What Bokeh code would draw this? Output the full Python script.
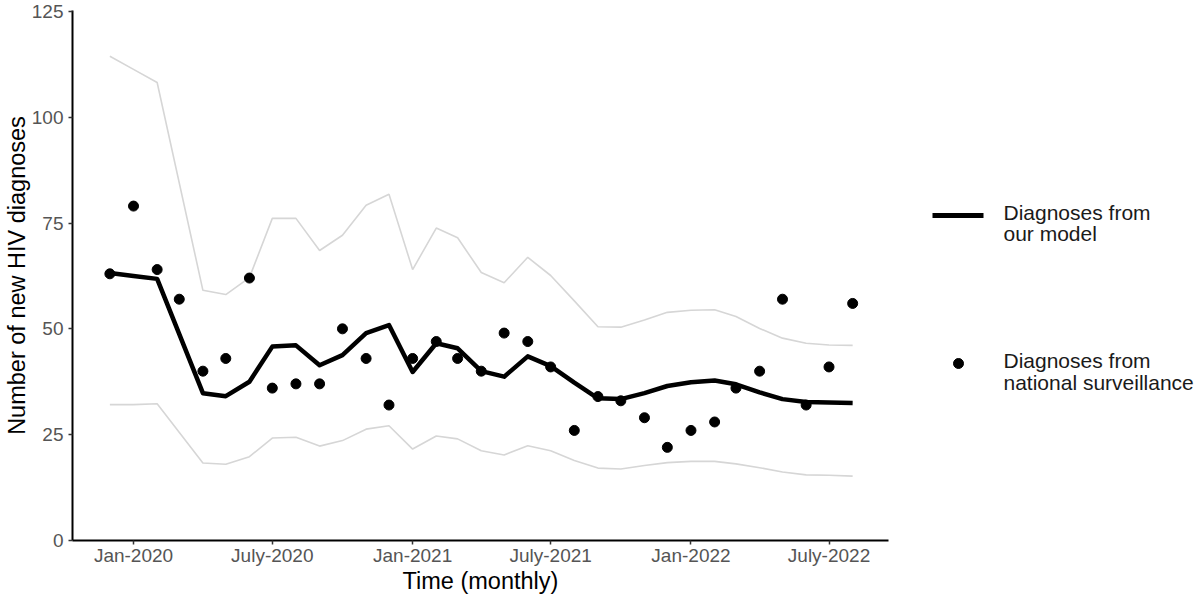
import pandas as pd
from bokeh.plotting import figure
from bokeh.layouts import row
from bokeh.models import FixedTicker, Range1d
from bokeh.core.properties import value
from bokeh.embed import file_html
from bokeh.resources import INLINE

# ---------------- data ----------------
surv_months = pd.date_range("2019-12-01", "2022-08-01", freq="MS")
surv_values = [63, 79, 64, 57, 40, 43, 62, 36, 37, 37, 50, 43, 32,
               43, 47, 43, 40, 49, 47, 41, 26, 34, 33, 29, 22,
               26, 28, 36, 40, 57, 32, 41, 56]

model_months = surv_months.drop(pd.Timestamp("2020-03-01"))
model_values = [63.2, 62.5, 61.8, 34.8, 34.1, 37.5, 45.8, 46.1, 41.4, 43.8, 49.0, 50.9,
                39.8, 46.6, 45.4, 40.0, 38.7, 43.5, 41.2, 37.3, 33.6, 33.4, 34.8, 36.5,
                37.4, 37.8, 36.9, 35.0, 33.4, 32.7, 32.6, 32.5]
model_upper = [114.4, 111.3, 108.2, 59.1, 58.1, 62.1, 76.1, 76.1, 68.5, 72.1, 79.2, 81.8,
               64.0, 73.8, 71.5, 63.3, 60.9, 66.9, 62.6, 56.6, 50.5, 50.4, 52.1, 53.9,
               54.4, 54.5, 52.9, 50.1, 47.8, 46.6, 46.2, 46.1]
model_lower = [32.1, 32.1, 32.3, 18.3, 18.0, 19.8, 24.2, 24.4, 22.3, 23.6, 26.3, 27.1,
               21.6, 24.7, 24.0, 21.2, 20.2, 22.4, 21.2, 18.9, 17.1, 16.9, 17.7, 18.4,
               18.7, 18.7, 18.1, 17.2, 16.2, 15.5, 15.4, 15.2]

x_tick_dates = ["2020-01-01", "2020-07-01", "2021-01-01", "2021-07-01", "2022-01-01", "2022-07-01"]
x_tick_labels = ["Jan-2020", "July-2020", "Jan-2021", "July-2021", "Jan-2022", "July-2022"]
y_ticks = [0, 25, 50, 75, 100, 125]

legend_lines_model = ["Diagnoses from", "our model"]
legend_lines_surv = ["Diagnoses from", "national surveillance"]

FONT = "Liberation Sans"
H = 596
FRAME_TOP, FRAME_BOTTOM = 10, 540

# ---------------- main plot ----------------
p = figure(width=890, height=H, x_axis_type="datetime",
           x_range=Range1d(pd.Timestamp("2019-10-13"), pd.Timestamp("2022-09-17")),
           y_range=Range1d(0, 125.2),
           toolbar_location=None, output_backend="svg",
           min_border_left=71, min_border_right=2,
           min_border_top=FRAME_TOP, min_border_bottom=H - FRAME_BOTTOM)

p.line(model_months, model_upper, line_color="#d6d6d6", line_width=1.6)
p.line(model_months, model_lower, line_color="#d6d6d6", line_width=1.6)
p.line(model_months, model_values, line_color="black", line_width=4.5, line_join="round")
p.scatter(surv_months, surv_values, size=10, color="black")

tick_ms = [int(t) for t in (pd.to_datetime(x_tick_dates).asi8 // 10**6)]
p.xaxis.ticker = FixedTicker(ticks=tick_ms)
p.xaxis.major_label_overrides = {ms: lab for ms, lab in zip(tick_ms, x_tick_labels)}
p.yaxis.ticker = FixedTicker(ticks=y_ticks)

p.xaxis.axis_label = "Time (monthly)"
p.yaxis.axis_label = "Number of new HIV diagnoses"

for ax in (p.xaxis, p.yaxis):
    ax.axis_line_color = "black"
    ax.axis_line_width = 2
    ax.major_tick_line_color = "#333333"
    ax.major_tick_line_width = 1.5
    ax.major_tick_out = 4
    ax.major_tick_in = 0
    ax.minor_tick_line_color = None
    ax.major_label_text_font = FONT
    ax.major_label_text_font_size = "19px"
    ax.major_label_text_color = "#555555"
    ax.axis_label_text_font = FONT
    ax.axis_label_text_font_size = "23.5px"
    ax.axis_label_text_font_style = "normal"
    ax.axis_label_text_color = "black"

p.xaxis.major_label_standoff = 0
p.xaxis.axis_label_standoff = -1
p.yaxis.major_label_standoff = 5
p.yaxis.axis_label_standoff = -1

p.grid.visible = False
p.outline_line_color = None
p.background_fill_color = "white"
p.border_fill_color = "white"

# ---------------- legend panel ----------------
# (frames in a row are aligned, so the legend frame spans the same rows as the plot frame)
LW = 308
lg = figure(width=LW, height=H, x_range=Range1d(890, 890 + LW),
            y_range=Range1d(FRAME_BOTTOM, FRAME_TOP),
            x_axis_type=None, y_axis_type=None,
            toolbar_location=None, output_backend="svg", min_border=0)
lg.grid.visible = False
lg.outline_line_color = None

lg.line([932, 983], [215, 215], line_color="black", line_width=5)
lg.scatter([958], [363], size=10, color="black")

lg.text(x=[1003, 1003], y=[211.7, 233.3], text=legend_lines_model,
        text_font=value(FONT), text_font_size="21px", text_color="#1a1a1a",
        text_baseline="alphabetic", text_align="left")
lg.text(x=[1003, 1003], y=[360, 381.7], text=legend_lines_surv,
        text_font=value(FONT), text_font_size="21px", text_color="#1a1a1a",
        text_baseline="alphabetic", text_align="left")

layout = row(p, lg)
open("out.html", "w").write(file_html(layout, INLINE))
